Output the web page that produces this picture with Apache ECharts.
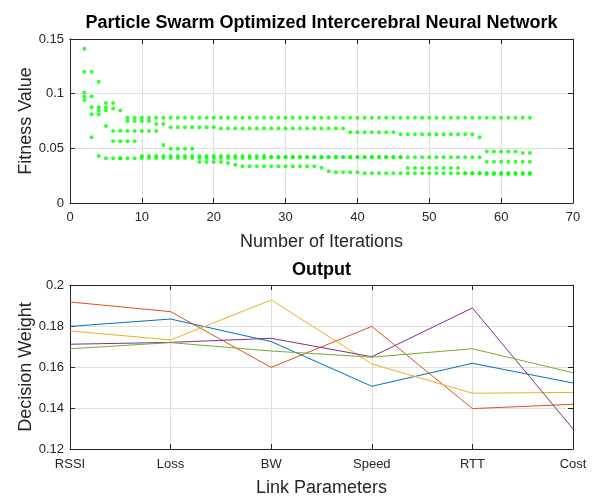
<!DOCTYPE html>
<html>
<head>
<meta charset="utf-8">
<script src="https://cdn.jsdelivr.net/npm/echarts@6/dist/echarts.min.js"></script>
<style>
html, body {margin: 0; padding: 0; background: #fff;}
#echartDiv {width: 593px; height: 497px;}
</style>
</head>
<body>
<div id="echartDiv"></div>
<script>
// x values of the swarm plot (iteration number)
var iterations = [2,3,4,5,6,7,8,9,
	10,11,12,13,14,15,16,17,18,19,
	20,21,22,23,24,25,26,27,28,29,
	30,31,32,33,34,35,36,37,38,39,
	40,41,42,43,44,45,46,47,48,49,
	50,51,52,53,54,55,56,57,58,59,
	60,61,62,63,64];

// fitness of the 5 particles, one value per iteration
var particle1 = [0.141,0.120,0.111,0.0915,0.0915,0.0845,0.078,0.078,
	0.078,0.078,0.078,0.078,0.078,0.078,0.078,0.078,0.078,0.078,
	0.078,0.078,0.078,0.078,0.078,0.078,0.078,0.078,0.078,0.078,
	0.078,0.078,0.078,0.078,0.078,0.078,0.078,0.078,0.078,0.078,
	0.078,0.078,0.078,0.078,0.078,0.078,0.078,0.078,0.078,0.078,
	0.078,0.078,0.078,0.078,0.078,0.078,0.078,0.078,0.078,0.078,
	0.078,0.078,0.078,0.078,0.078];
var particle2 = [0.120,0.0974,0.0876,0.0876,0.0864,0.066,0.075,0.075,
	0.075,0.075,0.0723,0.0723,0.0692,0.0692,0.0692,0.0692,0.0692,0.0692,
	0.0692,0.0681,0.0681,0.0681,0.0681,0.0681,0.0681,0.0681,0.0681,0.0681,
	0.0681,0.0681,0.0681,0.0681,0.0681,0.0681,0.0681,0.0681,0.0681,0.0647,
	0.0647,0.0647,0.0647,0.0647,0.0647,0.0647,0.0628,0.0628,0.0628,0.0628,
	0.0628,0.0628,0.0628,0.0628,0.0628,0.0628,0.0628,0.0601,0.0472,0.0472,
	0.0472,0.0472,0.0472,0.0457,0.0457];
var particle3 = [0.101,0.0876,0.0846,0.0845,0.0659,0.0565,0.0659,0.0659,
	0.0659,0.0659,0.0659,0.0531,0.0497,0.0497,0.0497,0.0497,0.043,0.043,
	0.043,0.043,0.043,0.043,0.043,0.043,0.043,0.043,0.0421,0.0421,
	0.0421,0.0421,0.0421,0.0421,0.0421,0.0421,0.0421,0.0421,0.0421,0.0421,
	0.0421,0.0421,0.0421,0.0421,0.0421,0.0421,0.0421,0.0418,0.0418,0.0418,
	0.0418,0.0418,0.0418,0.0418,0.0418,0.0418,0.0418,0.0418,0.0378,0.0378,
	0.0378,0.0378,0.0378,0.0378,0.0378];
var particle4 = [0.0974,0.0812,0.0812,0.0705,0.0564,0.0409,0.0564,0.0564,
	0.0429,0.0429,0.0429,0.0429,0.0429,0.0429,0.0429,0.0429,0.0411,0.0411,
	0.0411,0.0411,0.0411,0.0411,0.0411,0.0411,0.0411,0.0411,0.0419,0.0419,
	0.0419,0.0419,0.0419,0.0419,0.0419,0.0419,0.0419,0.0419,0.0419,0.0419,
	0.0419,0.0419,0.0419,0.0419,0.0419,0.0419,0.0419,0.032,0.032,0.032,
	0.032,0.032,0.032,0.032,0.032,0.0271,0.0271,0.0271,0.0275,0.0275,
	0.0275,0.0275,0.0275,0.0275,0.0275];
var particle5 = [0.0941,0.0601,0.0431,0.0409,0.0409,0.0409,0.0409,0.0409,
	0.0411,0.0411,0.0411,0.0411,0.0411,0.0411,0.0411,0.0411,0.0375,0.0375,
	0.0375,0.0375,0.0366,0.035,0.0335,0.0335,0.0335,0.0335,0.0335,0.0335,
	0.0335,0.0335,0.0335,0.0335,0.0335,0.0323,0.029,0.0281,0.0281,0.0281,
	0.0281,0.0271,0.0271,0.0271,0.0271,0.0271,0.0271,0.0271,0.0271,0.0271,
	0.0271,0.0271,0.0271,0.0271,0.0271,0.0271,0.0271,0.0271,0.0265,0.0265,
	0.0265,0.0265,0.0265,0.0265,0.0265];

var iterTicks = [0,10,20,30,40,50,60,70];
var fitnessTicks = [0,0.05,0.1,0.15];

// output plot
var linkParams = ['RSSI','Loss','BW','Speed','RTT','Cost'];
var weightTicks = [0.12,0.14,0.16,0.18,0.2];
var weightBlue   = [0.1798,0.1834,0.1724,0.1506,0.1618,0.1522];
var weightRed    = [0.1917,0.1870,0.1598,0.1798,0.1397,0.1418];
var weightYellow = [0.1776,0.1732,0.1927,0.1615,0.1472,0.1476];
var weightPurple = [0.1711,0.1720,0.1740,0.1650,0.1888,0.1298];
var weightGreen  = [0.1689,0.1719,0.1678,0.1648,0.1689,0.1572];

var lineColors = ['#0072BD','#D95319','#EDB120','#7E2F8E','#77AC30'];
var fontName = 'Liberation Sans';
var axisColor = '#262626';
var gridColor = '#e0e0e0';

function genParticleSeries(values) {
	var data = [];
	for (var i = 0; i < iterations.length; i++) {
		data.push([iterations[i], values[i]]);
	}
	return {
		type: 'scatter',
		xAxisIndex: 0,
		yAxisIndex: 0,
		symbol: 'circle',
		symbolSize: 4,
		itemStyle: {color: '#00ff00'},
		data: data
	};
}

function genWeightSeries(values, idx) {
	return {
		type: 'line',
		xAxisIndex: 2,
		yAxisIndex: 2,
		symbol: 'none',
		lineStyle: {color: lineColors[idx], width: 1},
		data: values
	};
}

// box axis (top / right), no labels, inward ticks
function boxAxis(base) {
	base.axisLine = {show: true, onZero: false, lineStyle: {color: axisColor, width: 1}};
	base.axisTick = {show: true, inside: true, length: 5, lineStyle: {color: axisColor}};
	base.axisLabel = base.axisLabel || {show: false};
	base.splitLine = {show: false};
	base.nameMoveOverlap = false;
	return base;
}

var nameStyle = {fontFamily: fontName, fontSize: 18, color: axisColor};
var titleStyle = {fontFamily: fontName, fontSize: 18, fontWeight: 'bold', color: '#000'};

var option = {
	animation: false,
	backgroundColor: '#fff',
	grid: [
		{left: 70, top: 39, width: 503, height: 164, outerBoundsMode: 'none'},
		{left: 70, top: 285, width: 503, height: 164, outerBoundsMode: 'none'}
	],
	xAxis: [
		boxAxis({
			type: 'value', gridIndex: 0, position: 'bottom',
			min: iterTicks[0], max: iterTicks[iterTicks.length - 1], interval: iterTicks[1] - iterTicks[0],
			name: 'Number of Iterations', nameLocation: 'middle', nameGap: 30, nameTextStyle: nameStyle,
			axisLabel: {show: true, margin: 8, fontFamily: fontName, fontSize: 13, color: axisColor}
		}),
		boxAxis({
			type: 'value', gridIndex: 0, position: 'top',
			min: iterTicks[0], max: iterTicks[iterTicks.length - 1], interval: iterTicks[1] - iterTicks[0],
			name: 'Particle Swarm Optimized Intercerebral Neural Network', nameLocation: 'middle', nameGap: 7,
			nameTextStyle: titleStyle
		}),
		boxAxis({
			type: 'category', gridIndex: 1, position: 'bottom', boundaryGap: false, data: linkParams,
			name: 'Link Parameters', nameLocation: 'middle', nameGap: 30, nameTextStyle: nameStyle,
			axisLabel: {show: true, interval: 0, margin: 9, fontFamily: fontName, fontSize: 13, color: axisColor}
		}),
		boxAxis({
			type: 'category', gridIndex: 1, position: 'top', boundaryGap: false, data: linkParams,
			name: 'Output', nameLocation: 'middle', nameGap: 6, nameTextStyle: titleStyle
		})
	],
	yAxis: [
		boxAxis({
			type: 'value', gridIndex: 0, position: 'left',
			min: fitnessTicks[0], max: fitnessTicks[fitnessTicks.length - 1], interval: fitnessTicks[1] - fitnessTicks[0],
			name: 'Fitness Value', nameLocation: 'middle', nameGap: 35, nameTextStyle: nameStyle,
			axisLabel: {show: true, margin: 6, fontFamily: fontName, fontSize: 13, color: axisColor}
		}),
		boxAxis({
			type: 'value', gridIndex: 0, position: 'right',
			min: fitnessTicks[0], max: fitnessTicks[fitnessTicks.length - 1], interval: fitnessTicks[1] - fitnessTicks[0]
		}),
		boxAxis({
			type: 'value', gridIndex: 1, position: 'left',
			min: weightTicks[0], max: weightTicks[weightTicks.length - 1], interval: 0.02,
			name: 'Decision Weight', nameLocation: 'middle', nameGap: 35, nameTextStyle: nameStyle,
			axisLabel: {show: true, margin: 6, fontFamily: fontName, fontSize: 13, color: axisColor}
		}),
		boxAxis({
			type: 'value', gridIndex: 1, position: 'right',
			min: weightTicks[0], max: weightTicks[weightTicks.length - 1], interval: 0.02
		})
	],
	series: []
};

// grid lines on the main axes
option.xAxis[0].splitLine = {show: true, lineStyle: {color: gridColor, width: 1}};
option.yAxis[0].splitLine = {show: true, lineStyle: {color: gridColor, width: 1}};
option.xAxis[2].splitLine = {show: true, interval: 0, lineStyle: {color: gridColor, width: 1}};
option.xAxis[2].axisTick.interval = 0;
option.xAxis[3].axisTick.interval = 0;
option.yAxis[2].splitLine = {show: true, lineStyle: {color: gridColor, width: 1}};

option.series.push(genParticleSeries(particle1));
option.series.push(genParticleSeries(particle2));
option.series.push(genParticleSeries(particle3));
option.series.push(genParticleSeries(particle4));
option.series.push(genParticleSeries(particle5));

option.series.push(genWeightSeries(weightBlue, 0));
option.series.push(genWeightSeries(weightRed, 1));
option.series.push(genWeightSeries(weightYellow, 2));
option.series.push(genWeightSeries(weightPurple, 3));
option.series.push(genWeightSeries(weightGreen, 4));

var myChart = echarts.init(document.getElementById('echartDiv'), null, {renderer: 'canvas'});
myChart.setOption(option);
</script>
</body>
</html>
